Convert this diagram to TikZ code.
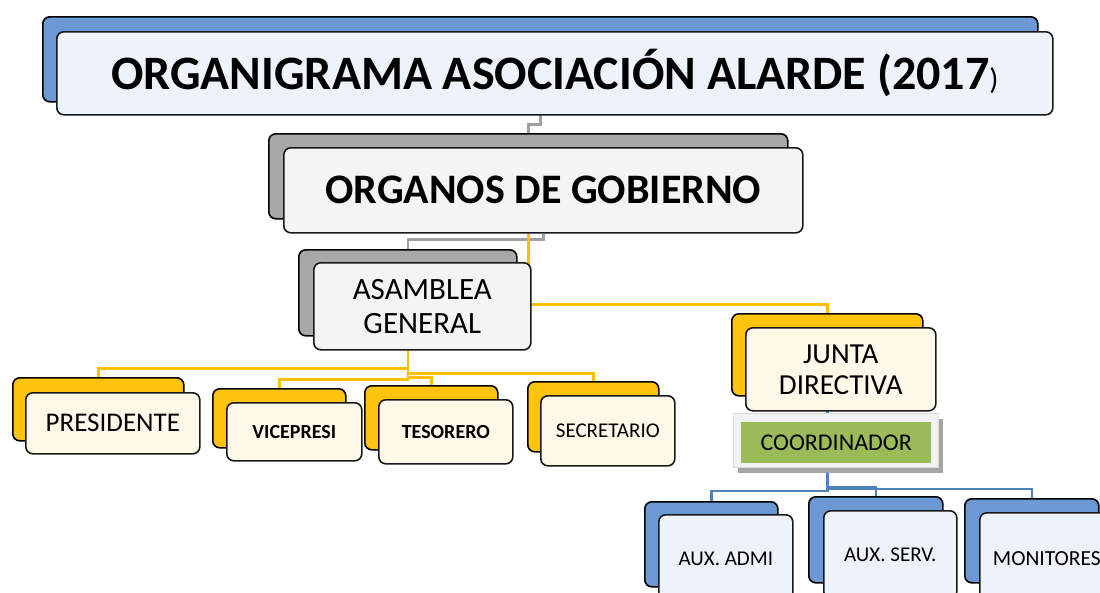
\documentclass[tikz,border=0pt]{standalone}
\usepackage{fontspec}
\setmainfont{Carlito}
\usetikzlibrary{
  calc,
  shadows,
  backgrounds}
\definecolor{bluecardcolor}{RGB}{108,152,212}
\definecolor{blueboxcolor}{RGB}{238,243,250}
\definecolor{graycardcolor}{RGB}{168,168,168}
\definecolor{grayboxcolor}{RGB}{244,244,244}
\definecolor{yellowcardcolor}{RGB}{255,196,14}
\definecolor{yellowboxcolor}{RGB}{255,249,234}
\definecolor{coordcolor}{RGB}{155,187,89}
\definecolor{bluelinecolor}{RGB}{79,129,189}
\definecolor{yellowlinecolor}{RGB}{255,192,0}
\definecolor{graylinecolor}{RGB}{160,160,160}
\tikzset{
  %% card : the coloured card lying behind each box
  card/.style={
    rectangle,
    rounded corners=7pt,
    draw=black,
    line width=1.6pt,
    anchor=north west,
    inner sep=0pt
  },
  bluecard/.style={card, fill=bluecardcolor},
  graycard/.style={card, fill=graycardcolor},
  yellowcard/.style={card, fill=yellowcardcolor},
  %% box : the light box in front, carrying the text
  box/.style={
    rectangle,
    rounded corners=7pt,
    draw=black!90,
    line width=1.6pt,
    anchor=north west,
    inner sep=0pt,
    align=center
  },
  bluebox/.style={box, fill=blueboxcolor},
  graybox/.style={box, fill=grayboxcolor},
  yellowbox/.style={box, fill=yellowboxcolor},
  %% coordframe : grey frame with shadow round the green box
  coordframe/.style={
    rectangle,
    fill=black!5,
    draw=black!15,
    line width=1pt,
    anchor=north west,
    drop shadow={shadow xshift=4pt, shadow yshift=-5pt, fill=black!35, opacity=1}
  },
  %% links between the boxes
  grayline/.style={graylinecolor, line width=2.6pt},
  yellowline/.style={yellowlinecolor, line width=2.6pt},
  blueline/.style={bluelinecolor, line width=2.6pt}
}

\begin{document}
\begin{tikzpicture}
  [x=1pt,
  y=-1pt]

  \useasboundingbox (0,0) rectangle (1100,592);
  \clip (0,0) rectangle (1100,592);

  %% Top of the chart
  \node (title-b) [bluecard, minimum width=995, minimum height=85] at (42,16) {};
  \node (title) [bluebox, minimum width=996, minimum height=83,
    font=\bfseries\fontsize{48}{52}\selectfont] at (56,31)
    {ORGANIGRAMA ASOCIACIÓN ALARDE (2017{\mdseries\fontsize{30}{30}\selectfont)}};

  \node (organos-b) [graycard, minimum width=519, minimum height=85] at (268,133) {};
  \node (organos) [graybox, minimum width=519, minimum height=85,
    font=\bfseries\fontsize{42}{46}\selectfont] at (283,147) {ORGANOS DE GOBIERNO};

  \node (asamblea-b) [graycard, minimum width=218, minimum height=86] at (298,249) {};
  \node (asamblea) [graybox, minimum width=217, minimum height=87,
    font=\fontsize{31}{34}\selectfont] at (313,262) {ASAMBLEA\\GENERAL};

  %% Asamblea general
  \node (pres-b) [yellowcard, minimum width=171, minimum height=63] at (12,377) {};
  \node (pres) [yellowbox, minimum width=174, minimum height=61,
    font=\fontsize{27}{30}\selectfont] at (25,392) {PRESIDENTE};

  \node (vice-b) [yellowcard, minimum width=133, minimum height=59] at (212,388) {};
  \node (vice) [yellowbox, minimum width=135, minimum height=58,
    font=\bfseries\fontsize{20}{24}\selectfont] at (226,402) {VICEPRESI};

  \node (teso-b) [yellowcard, minimum width=133, minimum height=64] at (364,385) {};
  \node (teso) [yellowbox, minimum width=134, minimum height=64,
    font=\bfseries\fontsize{20}{24}\selectfont] at (378,399) {TESORERO};

  \node (secr-b) [yellowcard, minimum width=131, minimum height=70] at (527,381) {};
  \node (secr) [yellowbox, minimum width=134, minimum height=70,
    font=\fontsize{21}{24}\selectfont] at (540,395) {SECRETARIO};

  %% Junta directiva
  \node (junta-b) [yellowcard, minimum width=191, minimum height=82] at (731,313) {};
  \node (junta) [yellowbox, minimum width=190, minimum height=83,
    font=\fontsize{29}{31}\selectfont] at (745,327) {JUNTA\\DIRECTIVA};

  \node (coord-frame) [coordframe, minimum width=205, minimum height=54] at (733,413) {};
  \node (coord) [rectangle, fill=coordcolor, anchor=north west, minimum width=190,
    minimum height=41, font=\fontsize{24}{26}\selectfont] at (741,422)
    {\raisebox{-3pt}{COORDINADOR}};

  \node (admi-b) [bluecard, minimum width=133, minimum height=85] at (644,501) {};
  \node (admi) [bluebox, minimum width=134, minimum height=88,
    font=\fontsize{21}{24}\selectfont] at (658,514) {AUX. ADMI};

  \node (serv-b) [bluecard, minimum width=134, minimum height=86] at (808,496) {};
  \node (serv) [bluebox, minimum width=133, minimum height=88,
    font=\fontsize{21}{24}\selectfont] at (823,510) {AUX. SERV.};

  \node (moni-b) [bluecard, minimum width=134, minimum height=84] at (964,498) {};
  \node (moni) [bluebox, minimum width=134, minimum height=92,
    font=\fontsize{21.5}{24}\selectfont] at (979,512) {MONITORES};

  %% Links, behind the boxes
  \begin{scope}[on background layer]
    \draw [grayline] (title-b.south) -- ++(0,22) -| (organos-b.north);
    \draw [grayline] (organos.south) -- ++(0,6) -| (asamblea-b.north);
    \draw [yellowline] (organos-b.south) -- ++(0,85) -| (junta-b.north);

    \draw [yellowline] (asamblea-b.south) -- ++(0,32) -| (pres-b.north);
    \draw [yellowline] (asamblea-b.south) -- ++(0,43) -| (vice-b.north);
    \draw [yellowline] (asamblea-b.south) -- ++(0,41) -| (teso-b.north);
    \draw [yellowline] (asamblea-b.south) -- ++(0,37) -| (secr-b.north);

    \draw [blueline] (junta-b.south) -- (junta-b.south |- coord-frame.north);
    \draw [blueline] (junta-b.south |- coord-frame.south) -- ++(0,23) -| (admi-b.north);
    \draw [blueline] (junta-b.south |- coord-frame.south) -- ++(0,19) -| (serv-b.north);
    \draw [blueline] (junta-b.south |- coord-frame.south) -- ++(0,21) -| (moni-b.north);
  \end{scope}

\end{tikzpicture}
\end{document}
